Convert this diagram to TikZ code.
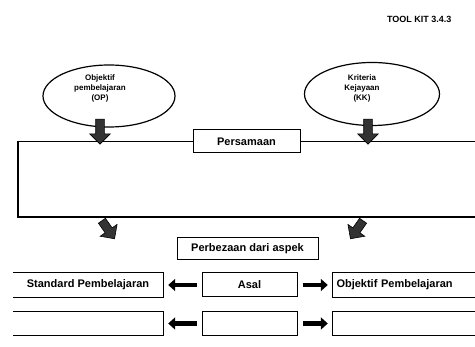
\documentclass[tikz,border=0pt]{standalone}
\usepackage{fontspec}
\setmainfont{Liberation Sans}
\usetikzlibrary{shapes.geometric,shapes.arrows,arrows.meta}

\begin{document}
\begin{tikzpicture}[x=1pt,y=-1pt,
    bubble/.style={draw=black, ellipse, line width=1.2pt, inner sep=0pt},
    bubbletext/.style={align=center, inner sep=0pt, font=\fontsize{8}{10}\selectfont\bfseries},
    labelbox/.style={draw=black, fill=white, line width=1pt, inner sep=0pt, minimum height=23pt, font=\fontsize{11}{12}\selectfont\bfseries},
    plainbox/.style={inner sep=0pt, minimum height=24pt, font=\fontsize{11}{12}\selectfont\bfseries},
    boxline/.style={draw=black, line width=1pt},
    framelines/.style={draw=black, line width=1.4pt},
    blockarrow/.style={single arrow, draw=black, fill=black!80, line width=0.6pt, inner sep=4pt,
        single arrow head extend=6pt, minimum height=25pt},
    sidearrow/.style={-{Triangle[length=7pt,width=12pt]}, line width=4.5pt, shorten <=5pt, shorten >=5pt}]

    \useasboundingbox (0,0) rectangle (475,347);
    \clip (0,0) rectangle (475,347);

    % Macro for one comparison row and its two arrows
    \newcommand{\cmprow}[5]{
        \node[plainbox, minimum width=150pt] (sp#1) at (88,#2) {#3};
        \draw[boxline] (sp#1.north west) -- (sp#1.north east) -- (sp#1.south east) -- (sp#1.south west);
        \node[labelbox, minimum width=95pt, minimum height=24pt] (asal#1) at (249.5,#2) {#4};
        \node[plainbox, minimum width=137pt, text width=130pt, align=left] (ob#1) at (401.5,#2) {#5};
        \draw[boxline] ([xshift=12pt]ob#1.north east) -- (ob#1.north west) -- (ob#1.south west) -- ([xshift=12pt]ob#1.south east);
        \draw[sidearrow] (asal#1) -- (sp#1);
        \draw[sidearrow] (asal#1) -- (ob#1);
    }

    \node[font=\fontsize{9}{10}\selectfont\bfseries, anchor=east] (toolkit) at (455,19) {TOOL KIT 3.4.3};

    % Ellipses (OP left, KK right)
    \node[bubble, minimum width=132pt, minimum height=62pt] (op) at (109,96) {};
    \node[bubbletext] (optext) at (100,88) {Objektif\\pembelajaran\\(OP)};
    \node[bubble, minimum width=135pt, minimum height=63pt] (kk) at (372,94) {};
    \node[bubbletext] (kktext) at (362,88) {Kriteria\\Kejayaan\\(KK)};

    % Open frame with its label on the top line
    \node[minimum width=466pt, minimum height=75pt, inner sep=0pt] (frame) at (251,179.5) {};
    \draw[framelines] (frame.north east) -- (frame.north west) -- (frame.south west) -- (frame.south east);
    \node[labelbox, minimum width=107pt] (persamaan) at (246.5,141.5) {Persamaan};

    % Block arrows
    \node[blockarrow, rotate=-90] (arrOP) at (100,129.5) {};
    \node[blockarrow, rotate=-90] (arrKK) at (368,129.5) {};
    \node[blockarrow, rotate=-55, minimum height=22pt] (arrL) at (107,228) {};
    \node[blockarrow, rotate=-125, minimum height=22pt] (arrR) at (358,228) {};

    \node[labelbox, minimum width=141pt, minimum height=22pt] (perbezaan) at (247.5,249) {Perbezaan dari aspek};

    % Rows
    \cmprow{1}{285}{Standard Pembelajaran}{Asal}{Objektif Pembelajaran}
    \cmprow{2}{323.5}{}{}{}
\end{tikzpicture}
\end{document}
